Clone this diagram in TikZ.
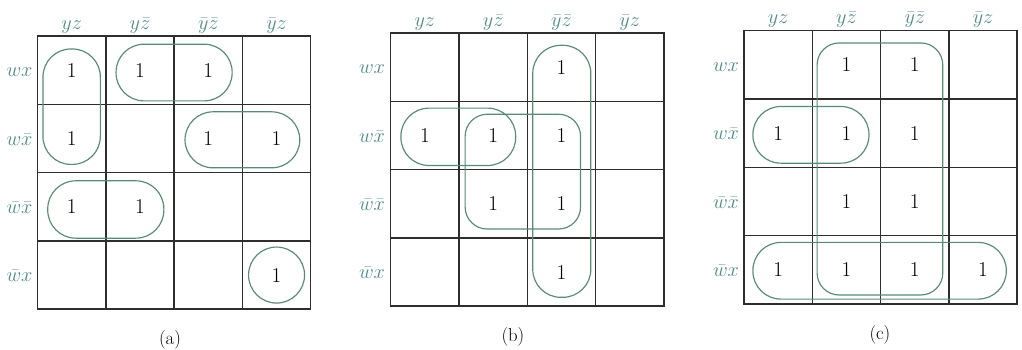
\documentclass[tikz,border=0pt]{standalone}
\definecolor{gridgray}{HTML}{2E2E2E}
\definecolor{labelteal}{HTML}{4E8A86}
\definecolor{loopgreen}{HTML}{5A8A76}

\begin{document}
\begin{tikzpicture}[
    x=2.049cm, y=-2.049cm,
    font=\fontsize{18}{20}\selectfont,
    kgrid/.style={
        draw=gridgray,
        line width=1.3pt
    },
    collabel/.style={
        text=labelteal,
        anchor=base,
        inner sep=0pt
    },
    rowlabel/.style={
        text=labelteal,
        anchor=base east,
        inner sep=0pt
    },
    one/.style={
        text=black,
        inner sep=1pt
    },
    caption/.style={
        font=\fontsize{16}{18}\selectfont
    },
    stadium/.style={
        draw=loopgreen,
        line width=1pt,
        rounded corners=0.84cm
    },
    roundbox/.style={
        draw=loopgreen,
        line width=1pt,
        rounded corners=0.66cm
    }
]

\useasboundingbox (0,0) rectangle (14.963,5.124);

% map (a)
\begin{scope}[shift={(0.549,0.527)}]
    \draw[kgrid] (0,0) rectangle (4,4)
        (1,0) -- (1,4) (2,0) -- (2,4) (3,0) -- (3,4)
        (0,1) -- (4,1) (0,2) -- (4,2) (0,3) -- (4,3);

    \node[collabel] (ca1) at (0.5,-0.1) {$yz$};
    \node[collabel] (ca2) at (1.5,-0.1) {$y\bar{z}$};
    \node[collabel] (ca3) at (2.5,-0.1) {$\bar{y}\bar{z}$};
    \node[collabel] (ca4) at (3.5,-0.1) {$\bar{y}z$};
    \node[rowlabel] (ra1) at (-0.07,0.6) {$wx$};
    \node[rowlabel] (ra2) at (-0.07,1.6) {$w\bar{x}$};
    \node[rowlabel] (ra3) at (-0.07,2.6) {$\bar{w}\bar{x}$};
    \node[rowlabel] (ra4) at (-0.07,3.6) {$\bar{w}x$};

    \node[one] (a11) at (0.5,0.5) {1};
    \node[one] (a12) at (1.5,0.5) {1};
    \node[one] (a13) at (2.5,0.5) {1};
    \node[one] (a21) at (0.5,1.5) {1};
    \node[one] (a23) at (2.5,1.5) {1};
    \node[one] (a24) at (3.5,1.5) {1};
    \node[one] (a31) at (0.5,2.5) {1};
    \node[one] (a32) at (1.5,2.5) {1};
    \node[one] (a44) at (3.5,3.5) {1};

    \draw[stadium] (0.08,0.19) rectangle (0.92,1.88);
    \draw[stadium] (1.15,0.12) rectangle (2.85,0.95);
    \draw[stadium] (2.16,1.11) rectangle (3.84,1.93);
    \draw[stadium] (0.15,2.12) rectangle (1.85,2.96);
    \draw[stadium] (3.5,3.5) circle (0.41);

    \node[caption] (capa) at (1.94,4.45) {(a)};
\end{scope}

% map (b)
\begin{scope}[shift={(5.720,0.483)}]
    \draw[kgrid] (0,0) rectangle (4,4)
        (1,0) -- (1,4) (2,0) -- (2,4) (3,0) -- (3,4)
        (0,1) -- (4,1) (0,2) -- (4,2) (0,3) -- (4,3);

    \node[collabel] (cb1) at (0.5,-0.1) {$yz$};
    \node[collabel] (cb2) at (1.5,-0.1) {$y\bar{z}$};
    \node[collabel] (cb3) at (2.5,-0.1) {$\bar{y}\bar{z}$};
    \node[collabel] (cb4) at (3.5,-0.1) {$\bar{y}z$};
    \node[rowlabel] (rb1) at (-0.08,0.6) {$wx$};
    \node[rowlabel] (rb2) at (-0.08,1.6) {$w\bar{x}$};
    \node[rowlabel] (rb3) at (-0.08,2.6) {$\bar{w}\bar{x}$};
    \node[rowlabel] (rb4) at (-0.08,3.6) {$\bar{w}x$};

    \node[one] (b13) at (2.5,0.5) {1};
    \node[one] (b21) at (0.5,1.5) {1};
    \node[one] (b22) at (1.5,1.5) {1};
    \node[one] (b23) at (2.5,1.5) {1};
    \node[one] (b32) at (1.5,2.5) {1};
    \node[one] (b33) at (2.5,2.5) {1};
    \node[one] (b43) at (2.5,3.5) {1};

    \draw[stadium] (2.08,0.18) rectangle (2.93,3.87);
    \draw[stadium] (0.15,1.10) rectangle (1.83,1.94);
    \draw[roundbox] (1.09,1.19) rectangle (2.78,2.87);

    \node[caption] (capb) at (1.79,4.45) {(b)};
\end{scope}

% map (c)
\begin{scope}[shift={(10.893,0.449)}]
    \draw[kgrid] (0,0) rectangle (4,4)
        (1,0) -- (1,4) (2,0) -- (2,4) (3,0) -- (3,4)
        (0,1) -- (4,1) (0,2) -- (4,2) (0,3) -- (4,3);

    \node[collabel] (cc1) at (0.5,-0.1) {$yz$};
    \node[collabel] (cc2) at (1.5,-0.1) {$y\bar{z}$};
    \node[collabel] (cc3) at (2.5,-0.1) {$\bar{y}\bar{z}$};
    \node[collabel] (cc4) at (3.5,-0.1) {$\bar{y}z$};
    \node[rowlabel] (rc1) at (-0.07,0.6) {$wx$};
    \node[rowlabel] (rc2) at (-0.07,1.6) {$w\bar{x}$};
    \node[rowlabel] (rc3) at (-0.07,2.6) {$\bar{w}\bar{x}$};
    \node[rowlabel] (rc4) at (-0.07,3.6) {$\bar{w}x$};

    \node[one] (c12) at (1.5,0.5) {1};
    \node[one] (c13) at (2.5,0.5) {1};
    \node[one] (c21) at (0.5,1.5) {1};
    \node[one] (c22) at (1.5,1.5) {1};
    \node[one] (c23) at (2.5,1.5) {1};
    \node[one] (c32) at (1.5,2.5) {1};
    \node[one] (c33) at (2.5,2.5) {1};
    \node[one] (c41) at (0.5,3.5) {1};
    \node[one] (c42) at (1.5,3.5) {1};
    \node[one] (c43) at (2.5,3.5) {1};
    \node[one] (c44) at (3.5,3.5) {1};

    \draw[roundbox] (1.07,0.18) rectangle (2.91,3.87);
    \draw[stadium] (0.13,1.11) rectangle (1.83,1.94);
    \draw[stadium] (0.13,3.10) rectangle (3.84,3.93);

    \node[caption] (capc) at (1.99,4.46) {(c)};
\end{scope}

\end{tikzpicture}
\end{document}
